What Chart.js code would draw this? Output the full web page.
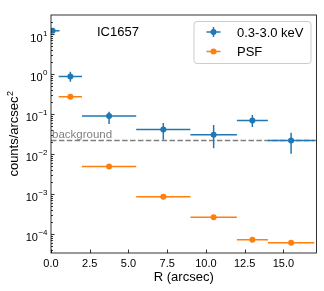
<!DOCTYPE html>
<html>
<head>
<meta charset="utf-8">
<script src="https://cdn.jsdelivr.net/npm/chart.js@4.4.0/dist/chart.umd.min.js"></script>
<style>
  html, body { margin: 0; padding: 0; background: #fff; }
</style>
</head>
<body>
<canvas id="profile" width="324" height="291"></canvas>
<script>
// radial bins (arcsec)
const radius = [0.1, 1.25, 3.75, 7.25, 10.5, 13.0, 15.5];
const binLo = [0, 0.5, 2.0, 5.5, 9.0, 12.0, 14.0];
const binHi = [0.55, 2.0, 5.5, 9.0, 12.0, 14.0, 17.0];

// 0.3-3.0 keV surface brightness, with 1-sigma range
const softCounts = [12.1, 0.86, 0.089, 0.041, 0.030, 0.068, 0.0215];
const softLow = [10.8, 0.64, 0.056, 0.0224, 0.0139, 0.047, 0.010];
const softHigh = [13.6, 1.14, 0.114, 0.059, 0.053, 0.094, 0.034];

// PSF model (no value in the innermost bin shown)
const psfCounts = [null, 0.27, 0.0048, 0.00085, 0.00026, 7.1e-5, 6.0e-5];

const background = 0.0215;

const xTicks = [0, 2.5, 5, 7.5, 10, 12.5, 15];
const yExponents = [-4, -3, -2, -1, 0, 1];

const FONT = '"Liberation Sans", Arial, Helvetica, sans-serif';
const BLUE = '#1f77b4';
const ORANGE = '#ff7f0e';
const GREY = '#808080';

function errorBars(chart, ds) {
  const { ctx, chartArea: a, scales: { x, y } } = chart;
  ctx.save();
  ctx.beginPath();
  ctx.rect(a.left, a.top, a.width, a.height);
  ctx.clip();
  ctx.strokeStyle = ds.borderColor;
  ctx.lineWidth = 1.5;
  ds.data.forEach((p, i) => {
    if (p.y == null) return;
    const px = x.getPixelForValue(p.x);
    const py = y.getPixelForValue(p.y);
    ctx.beginPath();
    ctx.moveTo(x.getPixelForValue(binLo[i]), py);
    ctx.lineTo(x.getPixelForValue(binHi[i]), py);
    if (ds.errLow) {
      ctx.moveTo(px, y.getPixelForValue(ds.errLow[i]));
      ctx.lineTo(px, y.getPixelForValue(ds.errHigh[i]));
    }
    ctx.stroke();
  });
  ctx.restore();
}

function legendBox(ctx) {
  const bx = 194, by = 21.5, bw = 117, bh = 42, r = 3;
  ctx.save();
  ctx.beginPath();
  ctx.moveTo(bx + r, by);
  ctx.arcTo(bx + bw, by, bx + bw, by + bh, r);
  ctx.arcTo(bx + bw, by + bh, bx, by + bh, r);
  ctx.arcTo(bx, by + bh, bx, by, r);
  ctx.arcTo(bx, by, bx + bw, by, r);
  ctx.closePath();
  ctx.fillStyle = 'rgba(255,255,255,0.8)';
  ctx.fill();
  ctx.strokeStyle = '#cccccc';
  ctx.lineWidth = 1;
  ctx.stroke();

  const hx = 213.5;
  const rows = [
    { y: 32, color: BLUE, label: '0.3-3.0 keV', vbar: true },
    { y: 51.5, color: ORANGE, label: 'PSF', vbar: false }
  ];
  rows.forEach(row => {
    ctx.strokeStyle = row.color;
    ctx.lineWidth = 1.5;
    ctx.beginPath();
    ctx.moveTo(hx - 7, row.y);
    ctx.lineTo(hx + 7, row.y);
    if (row.vbar) {
      ctx.moveTo(hx, row.y - 5);
      ctx.lineTo(hx, row.y + 5);
    }
    ctx.stroke();
    ctx.fillStyle = row.color;
    ctx.beginPath();
    ctx.arc(hx, row.y, 3, 0, Math.PI * 2);
    ctx.fill();
    ctx.fillStyle = '#000';
    ctx.font = '13px ' + FONT;
    ctx.textAlign = 'left';
    ctx.textBaseline = 'alphabetic';
    ctx.fillText(row.label, 237, row.y + 4.7);
  });
  ctx.restore();
}

const axesDecor = {
  id: 'axesDecor',
  beforeDatasetDraw(chart, args) {
    const ds = chart.data.datasets[args.index];
    if (ds.bars) errorBars(chart, ds);
  },
  afterDraw(chart) {
    const { ctx, chartArea: a, scales: { x, y } } = chart;
    ctx.save();

    // background label
    ctx.fillStyle = GREY;
    ctx.font = '11.5px ' + FONT;
    ctx.textAlign = 'left';
    ctx.textBaseline = 'alphabetic';
    ctx.fillText('background', a.left + 1, y.getPixelForValue(background) - 3);

    // frame
    ctx.strokeStyle = '#000';
    ctx.lineWidth = 0.8;
    ctx.strokeRect(a.left, a.top, a.width, a.height);

    // inward ticks
    ctx.beginPath();
    xTicks.forEach(v => {
      const px = Math.round(x.getPixelForValue(v)) + 0.5;
      ctx.moveTo(px, a.bottom);
      ctx.lineTo(px, a.bottom - 3.5);
    });
    for (let e = -5; e <= 1; e++) {
      for (let k = 1; k <= 9; k++) {
        const v = k * Math.pow(10, e);
        if (v < y.min || v > y.max) continue;
        const py = Math.round(y.getPixelForValue(v)) + 0.5;
        ctx.moveTo(a.left, py);
        ctx.lineTo(a.left + (k === 1 ? 3.5 : 2), py);
      }
    }
    ctx.stroke();

    // x tick labels
    ctx.fillStyle = '#000';
    ctx.font = '11px ' + FONT;
    ctx.textAlign = 'center';
    xTicks.forEach(v => {
      ctx.fillText(v.toFixed(1), x.getPixelForValue(v), a.bottom + 13.5);
    });

    // y tick labels, 10 with superscript exponent
    yExponents.forEach(e => {
      const py = y.getPixelForValue(Math.pow(10, e));
      const sup = String(e).replace('-', '\u2212');
      ctx.font = '8px ' + FONT;
      const supW = ctx.measureText(sup).width;
      ctx.font = '11px ' + FONT;
      const baseW = ctx.measureText('10').width;
      const x0 = a.left - 3.5 - supW - baseW - 0.5;
      ctx.textAlign = 'left';
      ctx.fillText('10', x0, py + 7.5);
      ctx.font = '8px ' + FONT;
      ctx.fillText(sup, x0 + baseW + 0.5, py + 1.5);
    });

    // axis titles
    ctx.font = '13px ' + FONT;
    ctx.textAlign = 'center';
    ctx.fillText('R (arcsec)', (a.left + a.right) / 2, 281);

    ctx.save();
    ctx.translate(18, (a.top + a.bottom) / 2);
    ctx.rotate(-Math.PI / 2);
    ctx.font = '13px ' + FONT;
    const mainW = ctx.measureText('counts/arcsec').width;
    ctx.font = '9px ' + FONT;
    const twoW = ctx.measureText('2').width;
    const start = -(mainW + twoW) / 2;
    ctx.textAlign = 'left';
    ctx.font = '13px ' + FONT;
    ctx.fillText('counts/arcsec', start, 0);
    ctx.font = '9px ' + FONT;
    ctx.fillText('2', start + mainW + 0.5, -5);
    ctx.restore();

    // source name
    ctx.font = '13px ' + FONT;
    ctx.textAlign = 'left';
    ctx.fillText('IC1657', 97, 36);

    legendBox(ctx);
    ctx.restore();
  }
};

new Chart(document.getElementById('profile'), {
  type: 'scatter',
  data: {
    datasets: [
      {
        label: '0.3-3.0 keV',
        data: radius.map((r, i) => ({ x: r, y: softCounts[i] })),
        errLow: softLow,
        errHigh: softHigh,
        bars: true,
        borderColor: BLUE,
        backgroundColor: BLUE,
        pointRadius: 3,
        pointBorderWidth: 0,
        order: 1
      },
      {
        label: 'PSF',
        data: radius.map((r, i) => ({ x: r, y: psfCounts[i] })),
        bars: true,
        borderColor: ORANGE,
        backgroundColor: ORANGE,
        pointRadius: 3,
        pointBorderWidth: 0,
        order: 2
      },
      {
        label: 'background',
        type: 'line',
        data: [{ x: 0, y: background }, { x: 17.14, y: background }],
        borderColor: GREY,
        borderWidth: 1.5,
        borderDash: [5.5, 2.4],
        pointRadius: 0,
        fill: false,
        order: 3
      }
    ]
  },
  options: {
    responsive: false,
    animation: false,
    events: [],
    layout: { padding: { left: 51, right: 7.5, top: 15, bottom: 38 } },
    plugins: { legend: { display: false }, tooltip: { enabled: false } },
    scales: {
      x: { type: 'linear', display: false, min: 0, max: 17.14 },
      y: { type: 'logarithmic', display: false, min: 3.3e-5, max: 29.9 }
    }
  },
  plugins: [axesDecor]
});
</script>
</body>
</html>
